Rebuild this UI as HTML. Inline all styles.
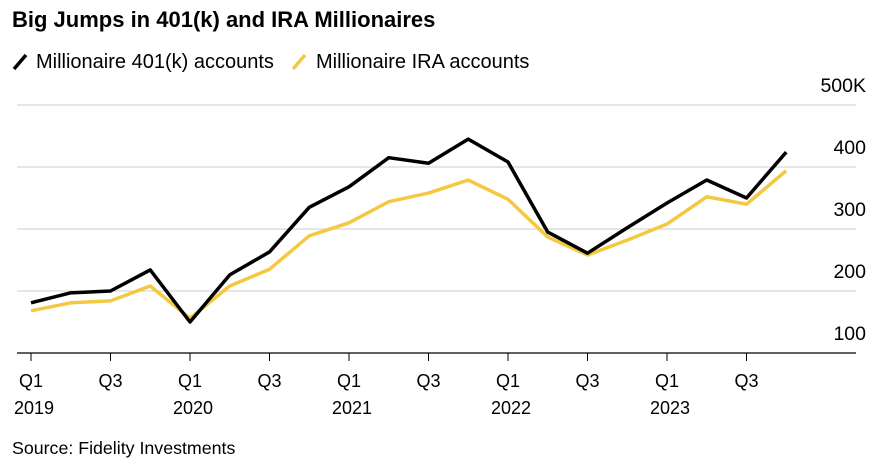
<!DOCTYPE html>
<html><head><meta charset="utf-8"><style>
body{margin:0;background:#fff;font-family:"Liberation Sans",sans-serif;}
</style></head><body>
<svg width="874" height="464" viewBox="0 0 874 464" xmlns="http://www.w3.org/2000/svg">
<text x="12" y="27" font-size="22" font-weight="bold" fill="#000">Big Jumps in 401(k) and IRA Millionaires</text>
<g>
<line x1="14" y1="69" x2="26" y2="55" stroke="#000" stroke-width="3.5"/>
<text x="36" y="68" font-size="20" fill="#000">Millionaire 401(k) accounts</text>
<line x1="293" y1="69" x2="305" y2="55" stroke="#f5c842" stroke-width="3.5"/>
<text x="316" y="68" font-size="20" fill="#000">Millionaire IRA accounts</text>
</g>
<g id="grid"></g><g id="xaxis"></g><g id="lines"></g>
<text x="12" y="454" font-size="17.8" fill="#000">Source: Fidelity Investments</text>
</svg>
<script>
const categories=["2019Q1","2019Q2","2019Q3","2019Q4","2020Q1","2020Q2","2020Q3","2020Q4","2021Q1","2021Q2","2021Q3","2021Q4","2022Q1","2022Q2","2022Q3","2022Q4","2023Q1","2023Q2","2023Q3","2023Q4"];
const series401k=[181,197,200,234,150,226,263,335,368,415,406,445,408,295,261,302,342,379,350,424];
const seriesIRA=[168,181,184,208,156,208,235,289,310,344,358,379,348,287,258,282,308,352,340,394];
const yTicks=[100,200,300,400,500];
const yTickLabels=["100","200","300","400","500K"];
const xTickLabels=[["Q1","2019"],["Q3",""],["Q1","2020"],["Q3",""],["Q1","2021"],["Q3",""],["Q1","2022"],["Q3",""],["Q1","2023"],["Q3",""]];
const NS="http://www.w3.org/2000/svg";
const xS=i=>31+i*39.75;
const yS=v=>353-(v-100)*0.62;
function mk(tag,attrs,parent){const e=document.createElementNS(NS,tag);for(const k in attrs)e.setAttribute(k,attrs[k]);parent.appendChild(e);return e;}
const grid=document.getElementById('grid');
yTicks.forEach((t,i)=>{
 const l=mk('line',{x1:17,x2:856,y1:yS(t),y2:yS(t),stroke:i===0?'#000':'#ccc','stroke-width':i===0?1.2:1},grid);
 
 
 const tx=mk('text',{x:866,y:yS(t)-13,'font-size':19.5,'text-anchor':'end',fill:'#000'},grid);
 tx.textContent=yTickLabels[i];
 
 
});
const xa=document.getElementById('xaxis');
xTickLabels.forEach((lab,j)=>{
 const i=j*2,x=xS(i);
 const tk=mk('line',{x1:x,x2:x,y1:353,y2:361,stroke:'#000','stroke-width':1},xa);
 
 
 const t1=mk('text',{x:x-12,y:387,'font-size':18,fill:'#000'},xa);
 t1.textContent=lab[0];
 
 
 if(lab[1]){const t2=mk('text',{x:x-17,y:414,'font-size':18,fill:'#000'},xa);t2.textContent=lab[1];
 
 }
});
const lg=document.getElementById('lines');
const p2=mk('polyline',{points:seriesIRA.map((v,i)=>xS(i)+','+yS(v)).join(' '),fill:'none',stroke:'#f5c842','stroke-width':3.5,'stroke-linejoin':'round'},lg);


const p1=mk('polyline',{points:series401k.map((v,i)=>xS(i)+','+yS(v)).join(' '),fill:'none',stroke:'#000','stroke-width':3.5,'stroke-linejoin':'round'},lg);


</script>
</body></html>
